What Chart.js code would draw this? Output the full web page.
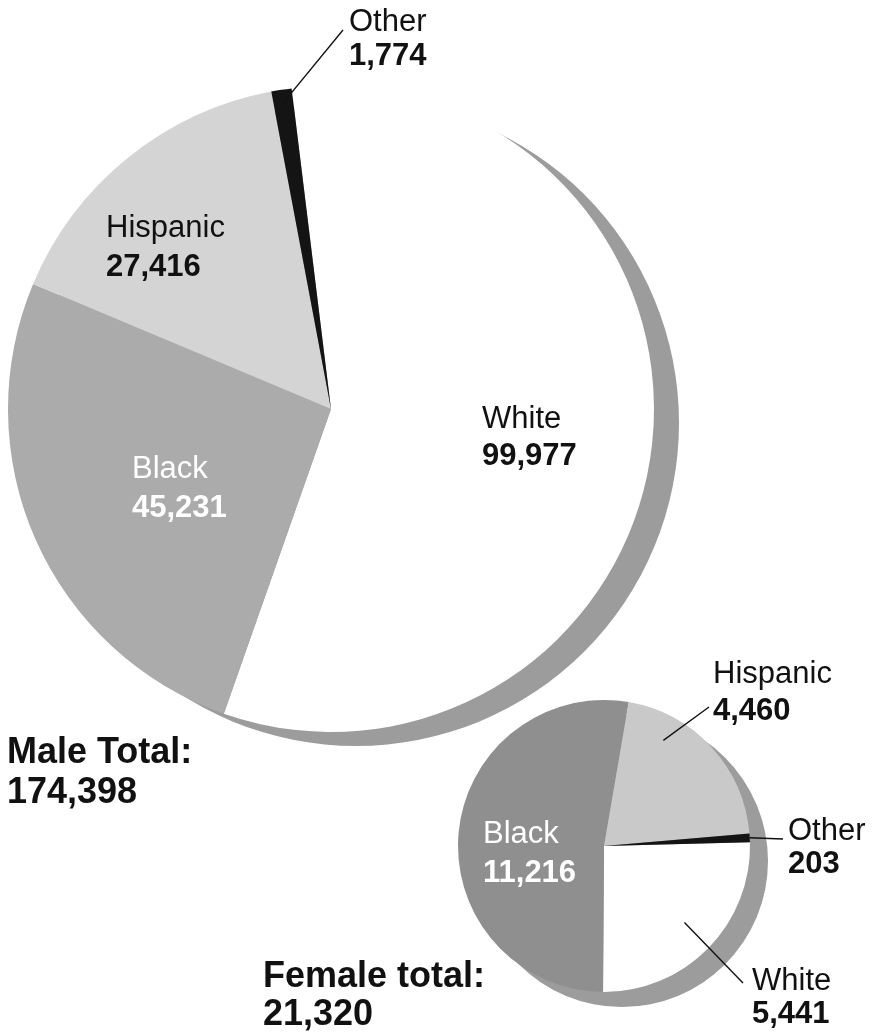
<!DOCTYPE html>
<html>
<head>
<meta charset="utf-8">
<script src="https://cdn.jsdelivr.net/npm/chart.js@4.4.1/dist/chart.umd.min.js"></script>
<style>
  html, body { margin: 0; padding: 0; background: #fff; overflow: hidden; }
  #wrap { position: relative; width: 880px; height: 1034px; font-family: "Liberation Sans", Arial, Helvetica, sans-serif; }
  #wrap canvas { position: absolute; left: 0; top: 0; }
  .lbl { position: absolute; white-space: nowrap; line-height: 1; }
</style>
</head>
<body>
<div id="wrap">
  <canvas id="maleChart" width="880" height="1034"></canvas>
  <canvas id="femaleChart" width="880" height="1034"></canvas>
</div>
<script>
// Datos
const categories = ['White', 'Black', 'Hispanic', 'Other'];
const maleValues = [99977, 45231, 27416, 1774];
const femaleValues = [5441, 11216, 4460, 203];

// Colores (gris de imprenta)
const maleColors = ['#ffffff', '#ababab', '#d4d4d4', '#141414'];
const femaleColors = ['#ffffff', '#8f8f8f', '#c9c9c9', '#141414'];

// Posición de las etiquetas: [x, línea base del nombre, línea base del valor]
const maleLabelPos = {
  White: [482, 428, 465],
  Black: [132, 478, 517],
  Hispanic: [106, 237, 276],
  Other: [349, 31, 65]
};
const femaleLabelPos = {
  White: [752, 990, 1023],
  Black: [483, 843, 882],
  Hispanic: [713, 683, 720],
  Other: [788, 840, 873]
};
const whiteText = ['Black'];

const fmt = n => n.toLocaleString('en-US');
const wrap = document.getElementById('wrap');

// texto con línea base en y
const putText = (text, x, baseline, size, bold, color) => {
  const d = document.createElement('div');
  d.className = 'lbl';
  d.textContent = text;
  d.style.left = x + 'px';
  d.style.top = (baseline - size * 0.8465) + 'px';
  d.style.fontSize = size + 'px';
  d.style.fontWeight = bold ? 'bold' : 'normal';
  d.style.color = color;
  wrap.appendChild(d);
};

// sombra desplazada detrás del pastel
const shadowPlugin = {
  id: 'shadowDisc',
  beforeDatasetsDraw(chart, args, opts) {
    const arc = chart.getDatasetMeta(0).data[0];
    if (!arc) return;
    const ctx = chart.ctx;
    ctx.save();
    ctx.fillStyle = opts.color;
    ctx.beginPath();
    ctx.arc(arc.x + opts.dx, arc.y + opts.dy, arc.outerRadius, 0, Math.PI * 2);
    ctx.fill();
    ctx.restore();
  }
};

// líneas guía desde la porción hasta la etiqueta
const leaderPlugin = {
  id: 'leaders',
  afterDatasetsDraw(chart, args, opts) {
    const meta = chart.getDatasetMeta(0);
    const ctx = chart.ctx;
    ctx.save();
    ctx.strokeStyle = '#111';
    ctx.lineWidth = 1.4;
    (opts.lines || []).forEach(l => {
      const arc = meta.data[categories.indexOf(l.cat)];
      const a = arc.startAngle + l.t * (arc.endAngle - arc.startAngle);
      const r = l.r * arc.outerRadius;
      ctx.beginPath();
      ctx.moveTo(arc.x + Math.cos(a) * r, arc.y + Math.sin(a) * r);
      ctx.lineTo(l.to[0], l.to[1]);
      ctx.stroke();
    });
    ctx.restore();
  }
};

const makePie = (id, values, colors, rotation, padding, shadow, lines) => new Chart(document.getElementById(id), {
  type: 'pie',
  data: {
    labels: categories,
    datasets: [{
      data: values,
      backgroundColor: colors,
      borderWidth: 0
    }]
  },
  options: {
    responsive: false,
    animation: false,
    rotation: rotation,
    layout: { padding: padding },
    plugins: {
      legend: { display: false },
      tooltip: { enabled: false },
      shadowDisc: shadow,
      leaders: { lines: lines }
    }
  },
  plugins: [shadowPlugin, leaderPlugin]
});

makePie('maleChart', maleValues, maleColors, -7,
  { left: 8, top: 86, right: 226, bottom: 302 },
  { color: '#9c9c9c', dx: 25, dy: 14 },
  [{ cat: 'Other', t: 0.5, r: 0.96, to: [343, 30] }]);

makePie('femaleChart', femaleValues, femaleColors, 88.5,
  { left: 458, top: 700, right: 130, bottom: 42 },
  { color: '#9c9c9c', dx: 18, dy: 15 },
  [
    { cat: 'Hispanic', t: 0.26, r: 0.83, to: [709, 707] },
    { cat: 'Other', t: 0.5, r: 1.0, to: [783, 839] },
    { cat: 'White', t: 0.49, r: 0.76, to: [743, 983] }
  ]);

// Etiquetas de porciones
const drawLabels = (values, pos) => {
  categories.forEach((c, i) => {
    const [x, b1, b2] = pos[c];
    const col = whiteText.includes(c) ? '#ffffff' : '#111111';
    putText(c, x, b1, 31, false, col);
    putText(fmt(values[i]), x, b2, 31, true, col);
  });
};
drawLabels(maleValues, maleLabelPos);
drawLabels(femaleValues, femaleLabelPos);

// Totales
const sum = arr => arr.reduce((a, b) => a + b, 0);
putText('Male Total:', 7, 763, 36, true, '#111111');
putText(fmt(sum(maleValues)), 7, 803, 36, true, '#111111');
putText('Female total:', 263, 987, 36, true, '#111111');
putText(fmt(sum(femaleValues)), 263, 1025, 36, true, '#111111');
</script>
</body>
</html>
